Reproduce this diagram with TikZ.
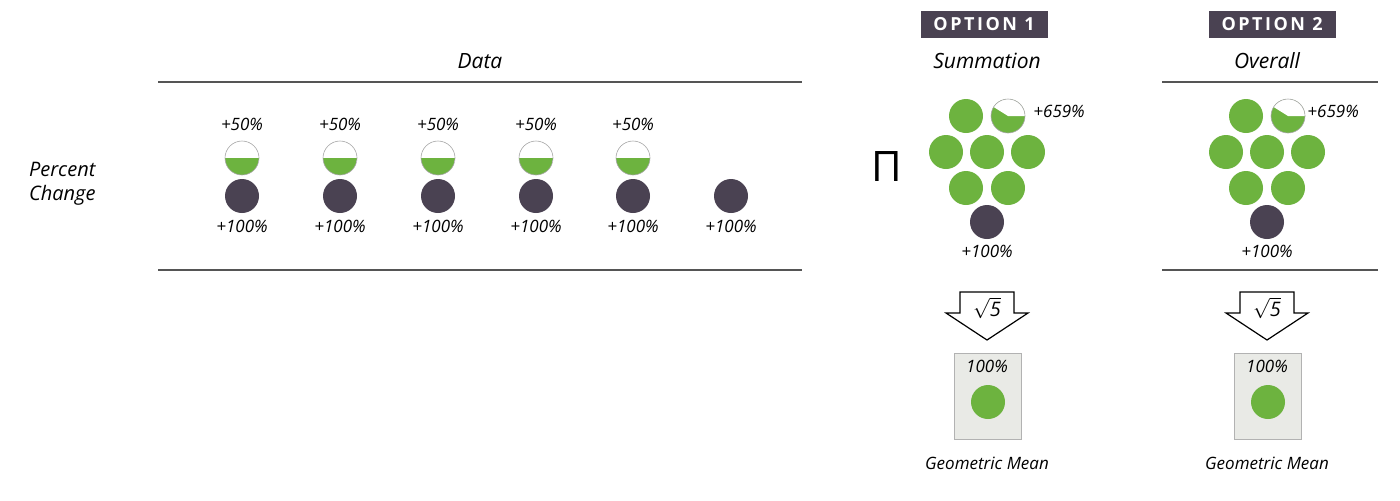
\documentclass[tikz,border=0pt]{standalone}
\usepackage{fontspec}
\setmainfont{Open Sans}
\newfontfamily\capsfont[LetterSpace=14]{Open Sans}
\usetikzlibrary{positioning}
\definecolor{grn}{HTML}{6DB33F}
\definecolor{plum}{HTML}{4A4252}
\definecolor{rulegray}{HTML}{555555}
\definecolor{cardgray}{HTML}{E9EAE6}

\begin{document}
\begin{tikzpicture}[x=0.5pt, y=-0.5pt, font=\itshape,
ball/.style ={circle, fill=grn, minimum size=17pt, inner sep=0pt},
dark/.style ={circle, fill=plum, minimum size=17pt, inner sep=0pt},
half/.style ={circle, draw=gray!70, line width=0.3pt, minimum size=17pt, inner sep=0pt,
  path picture={\fill[grn] (path picture bounding box.west) rectangle (path picture bounding box.south east);}},
part/.style ={circle, fill=grn, draw=gray!70, line width=0.3pt, minimum size=17pt, inner sep=0pt,
  path picture={\fill[white] (path picture bounding box.center) -- ++(0:9pt) arc[start angle=0, end angle=148, radius=9pt] -- cycle;}},
gain/.style ={font=\itshape\fontsize{8.5}{10}\selectfont, inner sep=1pt},
head/.style ={font=\itshape\fontsize{10.5}{12}\selectfont},
tag/.style ={fill=plum, text=white, minimum width=63.5pt, minimum height=13.5pt, inner sep=0pt,
  font=\capsfont\bfseries\fontsize{9}{10}\selectfont},
card/.style ={draw=gray!60, fill=cardgray, line width=0.4pt, minimum width=33.5pt, minimum height=43pt, inner sep=0pt},
rule/.style ={draw=rulegray, line width=0.8pt},
drop/.style ={draw=black, fill=white, line width=0.6pt}]
\useasboundingbox (0,0) rectangle (1400,500);

% data table
\node[head] (data) at (480,61) {Data};
\draw[rule] (158,82) -- (802,82);
\draw[rule] (158,270) -- (802,270);
\node[align=left, anchor=west, font=\itshape\fontsize{10}{12}\selectfont] (row) at (22,184) {Percent\\Change};

\foreach \i/\x in {1/242,2/340,3/438,4/536,5/633}{
  \node[gain] (up\i) at (\x,124) {+50\%};
  \node[half] (half\i) at (\x,158) {};
}
\foreach \i/\x in {1/242,2/340,3/438,4/536,5/633,6/731}{
  \node[dark] (dot\i) at (\x,196) {};
  \node[gain] (pct\i) at (\x,226) {+100\%};
}

\node[font=\upshape\fontsize{21}{23}\selectfont] (prod) at (887,166) {Π};

% the two options
\foreach \o/\x/\t/\g/\lbl in {1/987/984/1031/Summation, 2/1267/1272/1305/Overall}{
  \node[tag] (opt\o) at (\t,24) {OPTION \o};
  \node[head] (name\o) at (\x,61) {\lbl};
  \node[ball] (g\o-a) at (\x-21,116) {};
  \node[part] (g\o-b) at (\x+21,116) {};
  \node[ball] (g\o-c) at (\x-41,152) {};
  \node[ball] (g\o-d) at (\x,152) {};
  \node[ball] (g\o-e) at (\x+41,152) {};
  \node[ball] (g\o-f) at (\x-21,188) {};
  \node[ball] (g\o-g) at (\x+21,188) {};
  \node[dark] (g\o-h) at (\x,222) {};
  \node[gain, anchor=west] (top\o) at (\g,111) {+659\%};
  \node[gain] (low\o) at (\x,251) {+100\%};
  \draw[drop] (\x-27,292) -- (\x+27,292) -- (\x+27,313) -- (\x+41,313) -- (\x,340)
    -- (\x-41,313) -- (\x-27,313) -- cycle;
  \node[font=\fontsize{10}{12}\selectfont] (root\o) at (\x,308) {$\sqrt{\hbox{\itshape 5}}$};
  \node[card] (card\o) at (\x+1,396) {};
  \node[gain] (mean\o) at (\x,366) {100\%};
  \node[ball] (res\o) at (\x+1,402) {};
  \node[gain] (geo\o) at (\x,463) {Geometric Mean};
}
\draw[rule] (1162,82) -- (1378,82);
\draw[rule] (1162,270) -- (1378,270);
\end{tikzpicture}
\end{document}
